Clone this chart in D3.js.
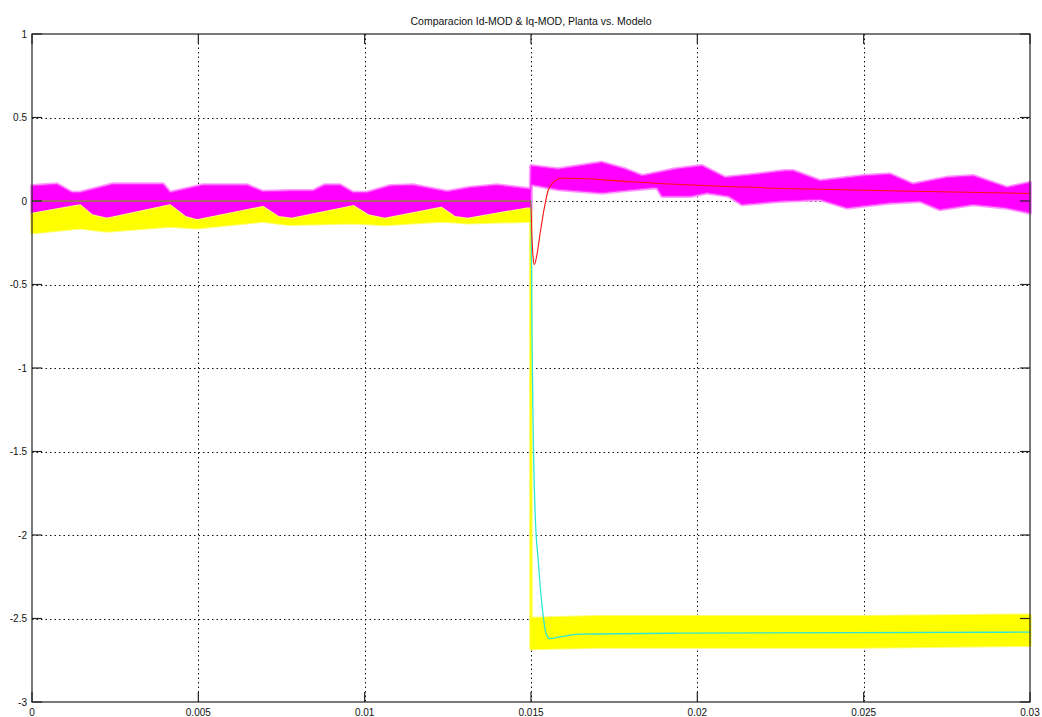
<!DOCTYPE html>
<html>
<head>
<meta charset="utf-8">
<script src="https://cdn.jsdelivr.net/npm/d3@7"></script>
<style>
  html, body { margin: 0; padding: 0; background: #fff; }
  svg { display: block; font-family: "Liberation Sans", Arial, sans-serif; }
</style>
</head>
<body>
<div id="chart"></div>
<script>
// Comparacion Id-MOD & Iq-MOD — planta (bandas ruidosas) vs. modelo (lineas)
const width = 1042, height = 717;
const margin = {top: 34, right: 12, bottom: 15, left: 32};

const title = "Comparacion Id-MOD & Iq-MOD, Planta vs. Modelo";
const xTicks = [0, 0.005, 0.01, 0.015, 0.02, 0.025, 0.03];
const xTickLabels = ["0", "0.005", "0.01", "0.015", "0.02", "0.025", "0.03"];
const yTicks = [1, 0.5, 0, -0.5, -1, -1.5, -2, -2.5, -3];
const yTickLabels = ["1", "0.5", "0", "-0.5", "-1", "-1.5", "-2", "-2.5", "-3"];

// Id planta (magenta): envolvente superior / inferior
const idTopT = [0, 0.00075, 0.0012, 0.00144, 0.00243, 0.00394, 0.00415, 0.00514, 0.00646, 0.00694, 0.00776, 0.00845,
  0.0088, 0.00926, 0.00965, 0.01007, 0.01076, 0.01145, 0.01248, 0.01317, 0.01398, 0.01499,
  0.0150, 0.01581, 0.01713, 0.01783, 0.01834, 0.01933, 0.02014, 0.02083, 0.02182, 0.02264, 0.02288,
  0.02369, 0.02498, 0.02579, 0.02648, 0.02751, 0.02829, 0.02931, 0.03];
const idTopV = [0.09, 0.10, 0.05, 0.05, 0.10, 0.10, 0.05, 0.095, 0.095, 0.055, 0.06, 0.06,
  0.095, 0.095, 0.05, 0.05, 0.09, 0.095, 0.055, 0.08, 0.095, 0.07,
  0.21, 0.19, 0.23, 0.19, 0.15, 0.19, 0.21, 0.14, 0.16, 0.18, 0.18,
  0.12, 0.15, 0.16, 0.10, 0.14, 0.15, 0.08, 0.11];
const idBotT = [0, 0.01499, 0.0150, 0.01581, 0.01713, 0.01864, 0.01879, 0.01894, 0.0198, 0.02029, 0.02095, 0.02134,
  0.02248, 0.02369, 0.02450, 0.02579, 0.02669, 0.02729, 0.02829, 0.02928, 0.03];
const idBotV = [-0.12, -0.12, 0.10, 0.07, 0.05, 0.08, 0.08, 0.03, 0.03, 0.05, 0.03, -0.02,
  0.0, 0.01, -0.04, -0.01, 0.0, -0.05, -0.02, -0.04, -0.07];

// Iq planta (amarillo)
const iqTopT = [0, 0.00144, 0.0018, 0.00225, 0.00415, 0.0046, 0.00496, 0.00694, 0.0074, 0.0078, 0.00965, 0.0101,
  0.0106, 0.0123, 0.0127, 0.0131, 0.01485, 0.01499, 0.0150, 0.017, 0.020, 0.025, 0.03];
const iqTopV = [-0.08, -0.03, -0.09, -0.11, -0.03, -0.10, -0.12, -0.04, -0.10, -0.11, -0.035, -0.09,
  -0.11, -0.045, -0.10, -0.11, -0.05, -0.05, -2.50, -2.49, -2.49, -2.49, -2.48];
const iqBotT = [0, 0.00144, 0.00225, 0.00415, 0.00496, 0.00694, 0.00776, 0.00965, 0.0106, 0.0123, 0.0131, 0.01499,
  0.0150, 0.017, 0.020, 0.025, 0.03];
const iqBotV = [-0.19, -0.16, -0.18, -0.15, -0.16, -0.12, -0.14, -0.13, -0.14, -0.12, -0.13, -0.12,
  -2.68, -2.67, -2.67, -2.67, -2.66];

// Id modelo (rojo)
const idModT = [0, 0.01499, 0.01503, 0.01506, 0.0151, 0.01518, 0.01527, 0.01542, 0.01551, 0.01566, 0.01593,
  0.01647, 0.01798, 0.02264, 0.0261, 0.03];
const idModV = [0, 0, -0.22, -0.33, -0.38, -0.32, -0.20, -0.02, 0.06, 0.11, 0.136,
  0.135, 0.115, 0.075, 0.06, 0.045];

// Iq modelo (cian)
const iqModT = [0, 0.0150, 0.01503, 0.01506, 0.01512, 0.01522, 0.01532, 0.01547, 0.01557, 0.01587, 0.01647, 0.01948, 0.03];
const iqModV = [0, 0, -0.8, -1.3, -1.85, -2.16, -2.40, -2.60, -2.62, -2.61, -2.594, -2.588, -2.582];

const zip = (ts, vs) => ts.map((t, i) => ({t, v: vs[i]}));
// banda: union de tiempos de ambas envolventes, interpolada por la propia envolvente
const band = (tt, tv, bt, bv) => {
  const times = Array.from(new Set([...tt, ...bt])).sort((a, b) => a - b);
  const at = (ts, vs, t) => {
    const i = d3.bisectLeft(ts, t);
    if (ts[i] === t) return vs[i];
    const a = i - 1, b = i;
    return vs[a] + (vs[b] - vs[a]) * (t - ts[a]) / (ts[b] - ts[a]);
  };
  return times.map(t => ({t, hi: at(tt, tv, t), lo: at(bt, bv, t)}));
};

const svg = d3.select("#chart").append("svg")
  .attr("width", width).attr("height", height);

const x = d3.scaleLinear().domain([0, 0.03]).range([margin.left, width - margin.right]);
const y = d3.scaleLinear().domain([-3, 1]).range([height - margin.bottom, margin.top]);

const x0 = x.range()[0], x1 = x.range()[1], y0 = y.range()[1], y1 = y.range()[0];

// grid
const grid = svg.append("g").attr("stroke", "#111").attr("stroke-width", 1).attr("stroke-dasharray", "1.5,3");
grid.selectAll(".gx").data(xTicks.slice(1, -1)).join("line")
  .attr("x1", d => Math.round(x(d)) + 0.5).attr("x2", d => Math.round(x(d)) + 0.5)
  .attr("y1", y0).attr("y2", y1);
grid.selectAll(".gy").data(yTicks.slice(1, -1)).join("line")
  .attr("y1", d => Math.round(y(d)) + 0.5).attr("y2", d => Math.round(y(d)) + 0.5)
  .attr("x1", x0).attr("x2", x1);

const plot = svg.append("g");
const area = d3.area().x(d => x(d.t)).y0(d => y(d.lo)).y1(d => y(d.hi));
const line = d3.line().x(d => x(d.t)).y(d => y(d.v)).curve(d3.curveMonotoneX);

const idBand = band(idTopT, idTopV, idBotT, idBotV);
const iqBand = band(iqTopT, iqTopV, iqBotT, iqBotV);

// borde claro (picos de ruido) + relleno
plot.append("path").datum(idBand).attr("d", area)
  .attr("fill", "#ff80ff").attr("stroke", "#ff9cff").attr("stroke-width", 4).attr("stroke-linejoin", "round");
plot.append("path").datum(idBand).attr("d", area)
  .attr("fill", "#ff00ff").attr("stroke", "#ff30ff").attr("stroke-width", 1);

plot.append("path").datum(iqBand).attr("d", area)
  .attr("fill", "#ffff40").attr("stroke", "#ffff70").attr("stroke-width", 3.5).attr("stroke-linejoin", "round");
plot.append("path").datum(iqBand).attr("d", area)
  .attr("fill", "#ffff00").attr("stroke", "#ffff00").attr("stroke-width", 1.5);

plot.append("path")
  .datum(zip(iqModT, iqModV))
  .attr("d", line)
  .attr("fill", "none").attr("stroke", "#2ee6d6").attr("stroke-width", 1.3);

plot.append("path")
  .datum(zip(idModT, idModV))
  .attr("d", line)
  .attr("fill", "none").attr("stroke", "#ff1010").attr("stroke-width", 1.1);

// caja y ticks interiores
const tickLen = 10;
const frame = svg.append("g").attr("stroke", "#222").attr("stroke-width", 1.2);
frame.append("rect").attr("x", x0).attr("y", y0).attr("width", x1 - x0).attr("height", y1 - y0).attr("fill", "none");
frame.selectAll(".tb").data(xTicks).join("line")
  .attr("x1", d => x(d)).attr("x2", d => x(d)).attr("y1", y1).attr("y2", y1 - tickLen);
frame.selectAll(".tt").data(xTicks).join("line")
  .attr("x1", d => x(d)).attr("x2", d => x(d)).attr("y1", y0).attr("y2", y0 + tickLen);
frame.selectAll(".tl").data(yTicks).join("line")
  .attr("y1", d => y(d)).attr("y2", d => y(d)).attr("x1", x0).attr("x2", x0 + tickLen);
frame.selectAll(".tr").data(yTicks).join("line")
  .attr("y1", d => y(d)).attr("y2", d => y(d)).attr("x1", x1).attr("x2", x1 - tickLen);

// etiquetas
svg.append("g").selectAll("text").data(xTicks).join("text")
  .attr("x", d => x(d)).attr("y", 716)
  .attr("text-anchor", "middle").attr("font-size", 10).attr("fill", "#111")
  .text((d, i) => xTickLabels[i]);
svg.append("g").selectAll("text").data(yTicks).join("text")
  .attr("x", 27).attr("y", d => y(d)).attr("dy", "0.35em")
  .attr("text-anchor", "end").attr("font-size", 10).attr("fill", "#111")
  .text((d, i) => yTickLabels[i]);

svg.append("text")
  .attr("x", (x0 + x1) / 2).attr("y", 25)
  .attr("text-anchor", "middle").attr("font-size", 10.5).attr("fill", "#111")
  .text(title);
</script>
</body>
</html>
